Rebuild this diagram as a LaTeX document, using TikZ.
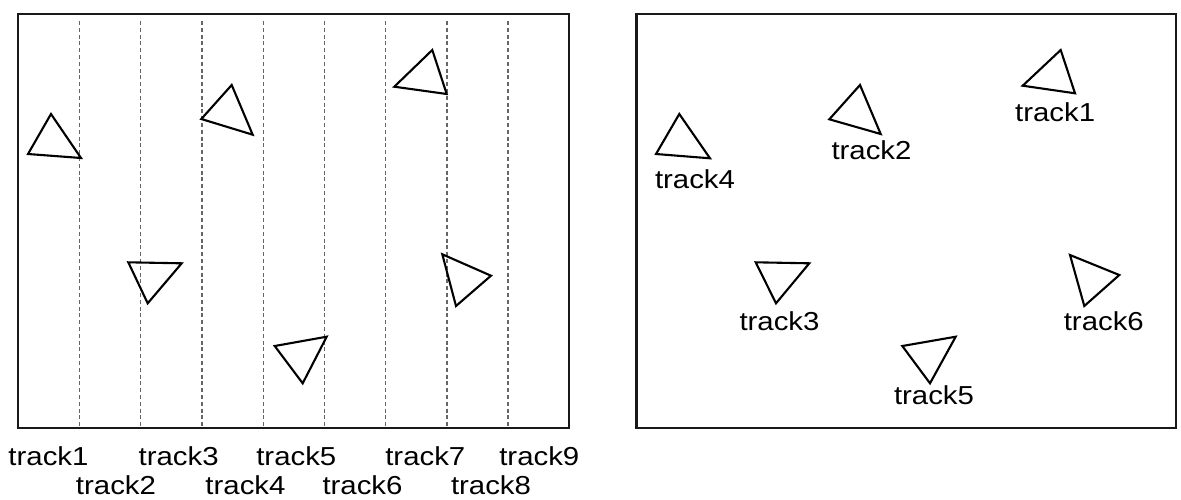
\documentclass[tikz,border=0pt]{standalone}
\usepackage{fontspec}
\setmainfont{Liberation Sans}[FakeStretch=1.13]
\begin{document}
\begin{tikzpicture}[x=1pt,y=-1pt,
  frame/.style={draw=black!90, line width=2.7pt},
  guide/.style={draw=black!60, line width=1.3pt, dash pattern=on 4pt off 2.8pt},
  tri/.style={draw=black, line width=2.1pt, line join=miter},
  lbl/.style={anchor=base, inner sep=0pt, font=\fontsize{26}{30}\selectfont}]
\useasboundingbox (0,0) rectangle (1181,499);
\fill[white] (0,0) rectangle (1181,499);
% left panel
\foreach \x in {79.5,140.7,202,263.3,324.5,385.7,447,508}
  \draw[guide] (\x,21) -- (\x,428);
\draw[frame] (18,14) rectangle (569,428);
\draw[tri] (51,114) -- (28,154) -- (81,158) -- cycle;
\draw[tri] (231.7,85) -- (201.3,119) -- (252.7,134.7) -- cycle;
\draw[tri] (432.3,50) -- (394.3,86.7) -- (446.7,94) -- cycle;
\draw[tri] (128.3,262.3) -- (181.7,263.3) -- (147.7,303.3) -- cycle;
\draw[tri] (274.7,346) -- (326.7,336.7) -- (302.7,383.3) -- cycle;
\draw[tri] (442.3,254.3) -- (491,275.7) -- (456,306) -- cycle;
\node[lbl] (l1) at (48.5,465) {track1};
\node[lbl] (l3) at (178.7,465) {track3};
\node[lbl] (l5) at (296.3,465) {track5};
\node[lbl] (l7) at (425.3,465) {track7};
\node[lbl] (l9) at (539.3,465) {track9};
\node[lbl] (l2) at (116,494.5) {track2};
\node[lbl] (l4) at (245.5,494.5) {track4};
\node[lbl] (l6) at (362.5,494.5) {track6};
\node[lbl] (l8) at (491,494.5) {track8};
% right panel
\draw[frame] (636.7,14) rectangle (1176,428);
\draw[tri] (679.3,114) -- (656,154) -- (710,158.3) -- cycle;
\draw[tri] (860,85) -- (829.3,119.3) -- (880.7,134) -- cycle;
\draw[tri] (1060.7,50) -- (1022.7,85.7) -- (1075,93.3) -- cycle;
\draw[tri] (755.7,262.3) -- (809.3,263.3) -- (776,303.3) -- cycle;
\draw[tri] (902.3,346) -- (955.7,336.7) -- (930,383.3) -- cycle;
\draw[tri] (1070,255) -- (1119.3,275) -- (1084.3,306) -- cycle;
\node[lbl] (r1) at (1055.2,121.7) {track1};
\node[lbl] (r2) at (871.5,159) {track2};
\node[lbl] (r4) at (695,188.3) {track4};
\node[lbl] (r3) at (779.5,330.7) {track3};
\node[lbl] (r5) at (934,404.3) {track5};
\node[lbl] (r6) at (1103.8,330) {track6};
\end{tikzpicture}
\end{document}
